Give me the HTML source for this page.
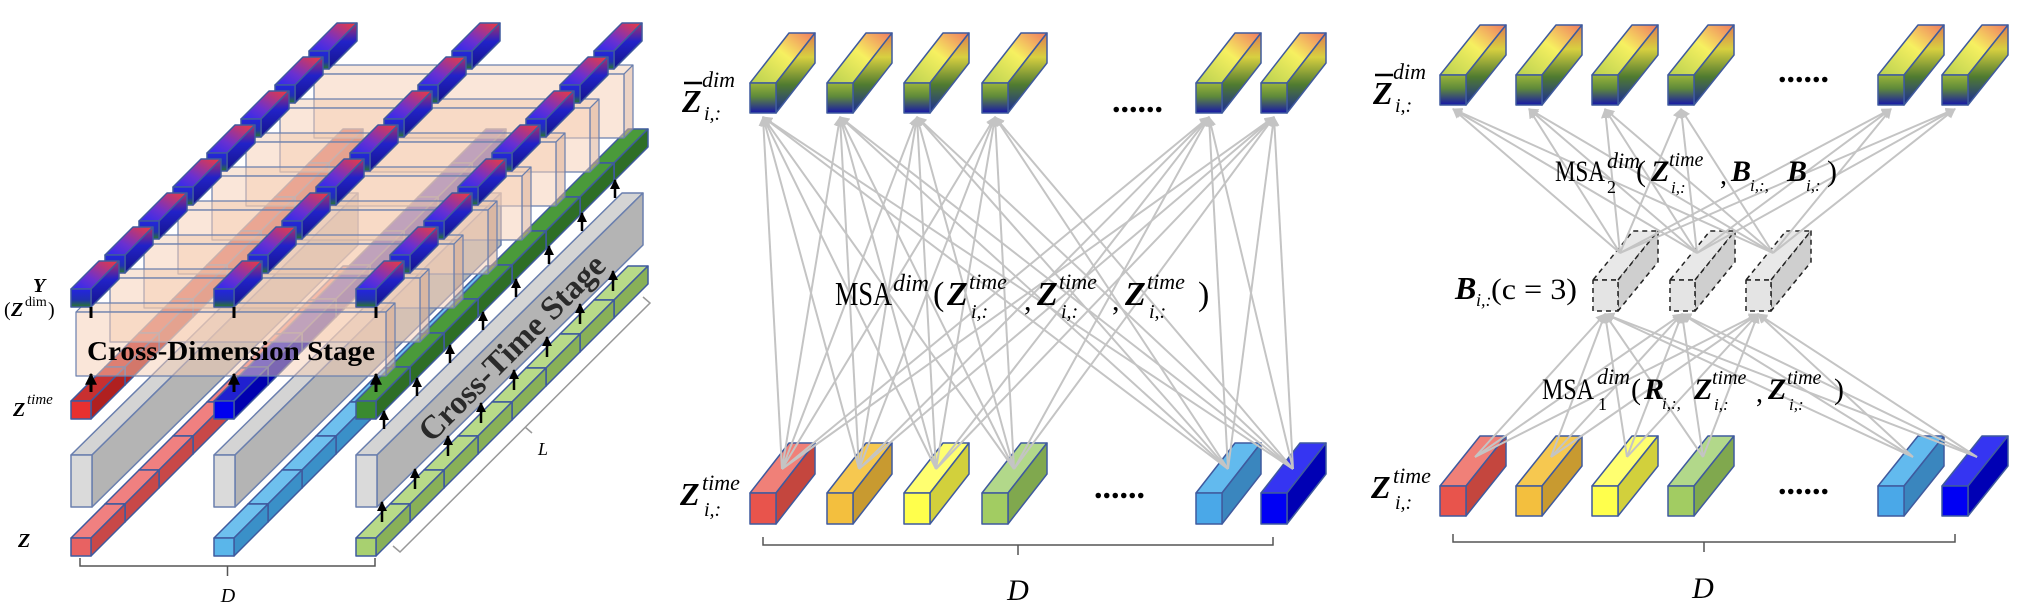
<!DOCTYPE html>
<html><head><meta charset="utf-8"><style>
html,body{margin:0;padding:0;background:#fff;}
svg{display:block;font-family:"Liberation Serif",serif;}
</style></head><body>
<svg id="fig" width="2017" height="605" viewBox="0 0 2017 605" xmlns="http://www.w3.org/2000/svg">
<defs>
<linearGradient id="gTopF" x1="0" y1="0" x2="0" y2="1"><stop offset="0" stop-color="#9ab43a"/><stop offset="0.45" stop-color="#5f8a3a"/><stop offset="1" stop-color="#1616a8"/></linearGradient>
<linearGradient id="gTopT" x1="1" y1="0" x2="0" y2="1"><stop offset="0" stop-color="#f07a60"/><stop offset="0.45" stop-color="#f6f060"/><stop offset="1" stop-color="#b8d050"/></linearGradient>
<linearGradient id="gTopS" x1="0" y1="0" x2="0" y2="1"><stop offset="0" stop-color="#e07a50"/><stop offset="0.3" stop-color="#d8d040"/><stop offset="0.65" stop-color="#4f7a30"/><stop offset="1" stop-color="#1a2a98"/></linearGradient>
<linearGradient id="gYF" x1="0" y1="0" x2="0" y2="1"><stop offset="0" stop-color="#2424e0"/><stop offset="0.6" stop-color="#2030b0"/><stop offset="1" stop-color="#2a7a2a"/></linearGradient>
<linearGradient id="gYT" x1="1" y1="0" x2="0" y2="1"><stop offset="0" stop-color="#f03a3a"/><stop offset="0.6" stop-color="#6a30d0"/><stop offset="1" stop-color="#2a2af0"/></linearGradient>
<linearGradient id="gYS" x1="0" y1="0" x2="0" y2="1"><stop offset="0" stop-color="#b03060"/><stop offset="0.4" stop-color="#2222c8"/><stop offset="1" stop-color="#14148a"/></linearGradient>
<marker id="arr" viewBox="0 0 10 10" refX="9" refY="5" markerWidth="5" markerHeight="5" orient="auto"><path d="M0,0 L10,5 L0,10 z" fill="#c4c4c4"/></marker>
<marker id="arrB" viewBox="0 0 10 10" refX="9" refY="5" markerWidth="4" markerHeight="4" orient="auto"><path d="M0,0 L10,5 L0,10 z" fill="#000"/></marker>
</defs>
<g id="left"></g>
<g id="mid"></g>
<g id="right"></g>
</svg>
<script>
const NS='http://www.w3.org/2000/svg';
// ---- data ----
const midCols=[750,827,904,982,1196,1261];
const rightCols=[1440,1516,1592,1668,1878,1942];
const bCols=[1593,1670,1746];
const bottomFront=['#e8544c','#f3bf3e','#ffff4c','#a2cc62','#4aa8e8','#0000f4'];
const bottomTop=['#f08078','#f6c850','#ffff70','#b2d88a','#62baee','#3535f2'];
const bottomSide=['#c4463e','#c89a30','#d2d03c','#80a84e','#3a86be','#0000b4'];
const leftCols=[71,214,356];
const zFront=['#e86262','#5ab6ea','#a8d070'];
const zTop=['#f08080','#6ec0ee','#b8da88'];
const zSide=['#c84848','#3a90c8','#88b058'];
const tFront=['#e83030','#0000ee','#3a8a30'];
const tTop=['#c83030','#2020d0','#4a9a3a'];
const tSide=['#b02020','#0000b0','#2e6e26'];
const rowCount=8;

function mk(tag,parent){const e=document.createElementNS(NS,tag);parent.appendChild(e);return e;}
function poly(parent,pts,fill,stroke,dash,sw){const p=mk('polygon',parent);p.setAttribute('points',pts.map(q=>q.join(',')).join(' '));p.setAttribute('fill',fill);p.setAttribute('stroke',stroke);p.setAttribute('stroke-width',sw||1.5);p.setAttribute('stroke-linejoin','round');if(dash)p.setAttribute('stroke-dasharray',dash);return p;}
function cube(parent,name,x,y,w,h,dx,dy,f,t,s,stroke,dash){
  const g=mk('g',parent);
  
  
  poly(g,[[x,y],[x+w,y],[x+w+dx,y-dy],[x+dx,y-dy]],t,stroke,dash);
  poly(g,[[x+w,y],[x+w+dx,y-dy],[x+w+dx,y+h-dy],[x+w,y+h]],s,stroke,dash);
  poly(g,[[x,y],[x+w,y],[x+w,y+h],[x,y+h]],f,stroke,dash);
  return g;
}
function line(parent,x1,y1,x2,y2,color,w,marker){const l=mk('line',parent);l.setAttribute('x1',x1);l.setAttribute('y1',y1);l.setAttribute('x2',x2);l.setAttribute('y2',y2);l.setAttribute('stroke',color);l.setAttribute('stroke-width',w);if(marker)l.setAttribute('marker-end','url(#'+marker+')');return l;}
function txt(parent,name,x,y,s,size,opts){const t=mk('text',parent);

t.setAttribute('x',x);t.setAttribute('y',y);t.setAttribute('font-size',size);if(opts&&opts.i)t.setAttribute('font-style','italic');if(opts&&opts.b)t.setAttribute('font-weight','bold');if(opts&&opts.tl){t.setAttribute('textLength',opts.tl);t.setAttribute('lengthAdjust','spacingAndGlyphs');}if(opts&&opts.tr)t.setAttribute('transform',opts.tr);if(opts&&opts.a)t.setAttribute('text-anchor',opts.a);t.textContent=s;return t;}
function brace(parent,name,x1,x2,y){const p=mk('path',parent);


const m=(x1+x2)/2;p.setAttribute('d',`M${x1},${y} L${x1},${y+8} L${m},${y+8} L${m},${y+18} M${m},${y+8} L${x2},${y+8} L${x2},${y}`);p.setAttribute('fill','none');p.setAttribute('stroke','#555');p.setAttribute('stroke-width',1.5);}

// ---- middle panel ----
const mid=document.getElementById('mid');
midCols.forEach((x,i)=>cube(mid,'mid-top-cube-'+i,x,83,26,30,39,50,'url(#gTopF)','url(#gTopT)','url(#gTopS)','#3f5a9e'));
midCols.forEach((x,i)=>cube(mid,'mid-bottom-cube-'+i,x,493,26,31,39,50,bottomFront[i],bottomTop[i],bottomSide[i],'#3f5a9e'));
const midLines=mk('g',mid);


midCols.forEach(bx=>midCols.forEach(tx=>line(midLines,bx+32,469,tx+13,117,'#c4c4c4',2,'arr')));
txt(mid,'dots-top','1112',112,'......',34,{b:true});
txt(mid,'dots-bottom','1094',498,'......',34,{b:true});
txt(mid,'zbar-label',682,112,'Z',32,{b:true,i:true});
line(mid,684,83,702,83,'#000',2.5);
txt(mid,'zbar-sup',702,87,'dim',22,{i:true});
txt(mid,'zbar-sub',704,120,'i,:',20,{i:true});
txt(mid,'ztime-label',680,505,'Z',32,{b:true,i:true});
txt(mid,'ztime-sup',702,490,'time',22,{i:true});
txt(mid,'ztime-sub',704,516,'i,:',20,{i:true});
const mf=mk('g',mid);


txt(mf,'msa',835,305,'MSA',34,{tl:57});
txt(mf,'msa-sup',893,291,'dim',24,{i:true});
txt(mf,'paren-open',933,305,'(',34);
[[947,'z1'],[1037,'z2'],[1125,'z3']].forEach(([x,n])=>{txt(mf,n,x,305,'Z',34,{b:true,i:true});txt(mf,n+'-sup',968,289,'time',22,{i:true}).setAttribute('x',x+22);txt(mf,n+'-sub',x+24,318,'i,:',20,{i:true});});
txt(mf,'comma1',1024,310,',',30);txt(mf,'comma2',1112,310,',',30);
txt(mf,'paren-close',1198,305,')',34);
brace(mid,'d-brace',763,1273,537);
txt(mid,'d-label',1018,600,'D',30,{i:true,a:'middle'});

// ---- right panel ----
const right=document.getElementById('right');
rightCols.forEach((x,i)=>cube(right,'right-top-cube-'+i,x,75,26,30,40,50,'url(#gTopF)','url(#gTopT)','url(#gTopS)','#3f5a9e'));
rightCols.forEach((x,i)=>cube(right,'right-bottom-cube-'+i,x,486,26,30,40,50,bottomFront[i],bottomTop[i],bottomSide[i],'#3f5a9e'));
bCols.forEach((x,i)=>cube(right,'router-cube-'+i,x,280,25,31,40,49,'#e4e4e4','#e8e8e8','#cfcfcf','#222','5,4'));
const rl=mk('g',right);


rightCols.forEach(bx=>bCols.forEach(b=>line(rl,bx+35,457,b+12,314,'#c4c4c4',2,'arr')));
bCols.forEach(b=>rightCols.forEach(tx=>line(rl,b+27,253,tx+13,109,'#c4c4c4',2,'arr')));
txt(right,'dots-top-right',1778,82,'......',34,{b:true});
txt(right,'dots-bottom-right',1778,494,'......',34,{b:true});
txt(right,'zbar-label-right',1373,104,'Z',32,{b:true,i:true});
line(right,1375,75,1393,75,'#000',2.5);
txt(right,'zbar-sup-right',1393,79,'dim',22,{i:true});
txt(right,'zbar-sub-right',1395,112,'i,:',20,{i:true});
txt(right,'ztime-label-right',1371,498,'Z',32,{b:true,i:true});
txt(right,'ztime-sup-right',1393,483,'time',22,{i:true});
txt(right,'ztime-sub-right',1395,509,'i,:',20,{i:true});
const f2=mk('g',right);


txt(f2,'msa2',1555,181,'MSA',30,{tl:50});
txt(f2,'msa2-sup',1607,168,'dim',22,{i:true});
txt(f2,'msa2-sub',1607,193,'2',18);
txt(f2,'msa2-po',1636,181,'(',30);
txt(f2,'msa2-z',1651,181,'Z',30,{b:true,i:true});
txt(f2,'msa2-z-sup',1669,166,'time',20,{i:true});
txt(f2,'msa2-z-sub',1671,193,'i,:',17,{i:true});
txt(f2,'msa2-c1',1720,184,',',28);
txt(f2,'msa2-b1',1731,181,'B',30,{b:true,i:true});
txt(f2,'msa2-b1-sub',1750,191,'i,:,',17,{i:true});
txt(f2,'msa2-b2',1787,181,'B',30,{b:true,i:true});
txt(f2,'msa2-b2-sub',1806,191,'i,:',17,{i:true});
txt(f2,'msa2-pc',1827,181,')',30);
const f1=mk('g',right);


txt(f1,'msa1',1542,399,'MSA',30,{tl:52});
txt(f1,'msa1-sup',1597,384,'dim',22,{i:true});
txt(f1,'msa1-sub',1598,410,'1',18);
txt(f1,'msa1-po',1631,399,'(',30);
txt(f1,'msa1-r',1644,399,'R',30,{b:true,i:true});
txt(f1,'msa1-r-sub',1662,409,'i,:,',17,{i:true});
txt(f1,'msa1-z1',1694,399,'Z',30,{b:true,i:true});
txt(f1,'msa1-z1-sup',1712,384,'time',20,{i:true});
txt(f1,'msa1-z1-sub',1714,410,'i,:',17,{i:true});
txt(f1,'msa1-c',1756,402,',',28);
txt(f1,'msa1-z2',1768,399,'Z',30,{b:true,i:true});
txt(f1,'msa1-z2-sup',1787,384,'time',20,{i:true});
txt(f1,'msa1-z2-sub',1789,410,'i,:',17,{i:true});
txt(f1,'msa1-pc',1834,399,')',30);
txt(right,'router-label',1455,299,'B',32,{b:true,i:true});
txt(right,'router-label-sub',1476,306,'i,:',18,{i:true});
txt(right,'router-label-c',1491,299,'(c = 3)',30,{tl:86});
brace(right,'d-brace-right',1453,1955,534);
txt(right,'d-label-right',1703,598,'D',30,{i:true,a:'middle'});

// ---- left panel ----
const left=document.getElementById('left');
const S=34;
leftCols.forEach((x0,c)=>{
  for(let i=rowCount-1;i>=0;i--) cube(left,'z-cube-'+c+'-'+i,x0+S*i,538-S*i,20,18,S,S,zFront[c],zTop[c],zSide[c],'#3f5a9e');
  cube(left,'cross-time-bar-'+c,x0,455,21,52,266,262,'#dadada','#d4d4d4','#b4b4b4','#6a7fae');
  for(let i=rowCount-1;i>=0;i--) cube(left,'ztime-cube-'+c+'-'+i,x0+S*i,401-S*i,20,18,S,S,tFront[c],tTop[c],tSide[c],'#3f5a9e');
});
for(let i=0;i<rowCount;i++){
  line(left,382+33*i,522-33*i,382+33*i,502-33*i,'#000',2.5,'arrB');
  line(left,384+33*i,429-33*i,384+33*i,411-33*i,'#000',2.5,'arrB');
}
const ctt=txt(left,'cross-time-stage-label',511,359,'Cross-Time Stage',33,{b:true,a:'middle',tr:'rotate(-45 511 347)'});
ctt.setAttribute('fill','#2a2a2a');
for(let k=rowCount-1;k>=0;k--){
  const g=mk('g',left);
  
  
  const x=76+S*k,y=312-S*k;
  poly(g,[[x,y],[x+310,y],[x+319,y-9],[x+9,y-9]],'rgba(240,200,170,0.45)','#6a7fae',null,1.2);
  poly(g,[[x+310,y],[x+319,y-9],[x+319,y+55],[x+310,y+64]],'rgba(220,175,150,0.55)','#6a7fae',null,1.2);
  poly(g,[[x,y],[x+310,y],[x+310,y+64],[x,y+64]],'rgba(245,205,180,0.5)','#6a7fae',null,1.2);
  leftCols.forEach((x0,c)=>cube(left,'y-cube-'+c+'-'+k,x0+S*k,289-S*k,20,18,28,28,'url(#gYF)','url(#gYT)','url(#gYS)','#3f5a9e'));
}
leftCols.forEach(x0=>{line(left,x0+20,307,x0+20,318,'#000',3);line(left,x0+20,392,x0+20,374,'#000',3,'arrB');});
txt(left,'cross-dimension-stage-label',87,360,'Cross-Dimension Stage',27,{b:true,tl:288});
txt(left,'y-label',33,292,'Y',20,{b:true,i:true});
txt(left,'zdim-label',4,316,'(',20);
txt(left,'zdim-z',11,316,'Z',20,{b:true,i:true});
txt(left,'zdim-sup',25,306,'dim',14);
txt(left,'zdim-close',48,316,')',20);
txt(left,'ztime-left-label',13,416,'Z',20,{b:true,i:true});
txt(left,'ztime-left-sup',27,404,'time',15,{i:true});
txt(left,'z-left-label',18,547,'Z',20,{b:true,i:true});
brace(left,'d-brace-left',80,375,558);
txt(left,'d-label-left',228,602,'D',20,{i:true,a:'middle'});
const lb=mk('path',left);


lb.setAttribute('d','M393,546 L400,552 L650,303 L643,297 M525,427 L532,433');
lb.setAttribute('fill','none');lb.setAttribute('stroke','#999');lb.setAttribute('stroke-width',1.5);
txt(left,'l-label',538,455,'L',18,{i:true});
</script>
</body></html>
